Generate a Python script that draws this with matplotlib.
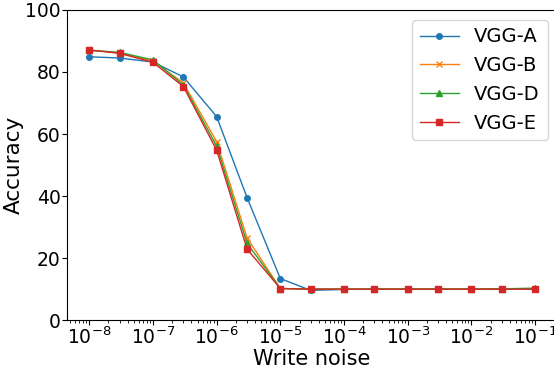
import numpy as np
import matplotlib
matplotlib.use("Agg")
import matplotlib.pyplot as plt

noise = [1e-8, 3e-8, 1e-7, 3e-7, 1e-6, 3e-6, 1e-5, 3e-5, 1e-4, 3e-4, 1e-3, 3e-3, 1e-2, 3e-2, 1e-1]
vgg_a = [84.9, 84.5, 83.2, 78.4, 65.6, 39.5, 13.4, 9.6, 9.9, 10.0, 10.0, 10.0, 10.0, 10.0, 10.0]
vgg_b = [87.0, 86.2, 83.5, 76.5, 57.5, 26.5, 10.2, 10.0, 10.0, 10.0, 10.0, 10.0, 10.0, 10.1, 10.2]
vgg_d = [87.0, 86.3, 83.9, 75.8, 56.1, 24.8, 10.2, 10.0, 10.0, 10.0, 10.0, 10.0, 10.0, 10.1, 10.3]
vgg_e = [87.1, 86.0, 83.1, 75.3, 54.8, 22.9, 10.2, 10.0, 10.0, 10.0, 10.0, 10.0, 10.0, 10.0, 10.0]

fig = plt.figure(figsize=(5.54, 3.68), dpi=100)
ax = fig.add_axes([0.121, 0.13, 0.885, 0.843])

ax.plot(noise, vgg_a, marker='o', lw=1, ms=4, label='VGG-A')
ax.plot(noise, vgg_b, marker='x', lw=1, ms=4, label='VGG-B')
ax.plot(noise, vgg_d, marker='^', lw=1, ms=4, label='VGG-D')
ax.plot(noise, vgg_e, marker='s', lw=1, ms=4, label='VGG-E')

ax.set_xscale('log')
ax.set_ylim(0, 100)
ax.set_xlabel('Write noise', fontsize=15, labelpad=1)
ax.set_ylabel('Accuracy', fontsize=15.5, labelpad=1)
ax.tick_params(labelsize=13.5, pad=1)
ax.legend(loc='upper right', fontsize=14)

fig.savefig('out.png', dpi=100)
